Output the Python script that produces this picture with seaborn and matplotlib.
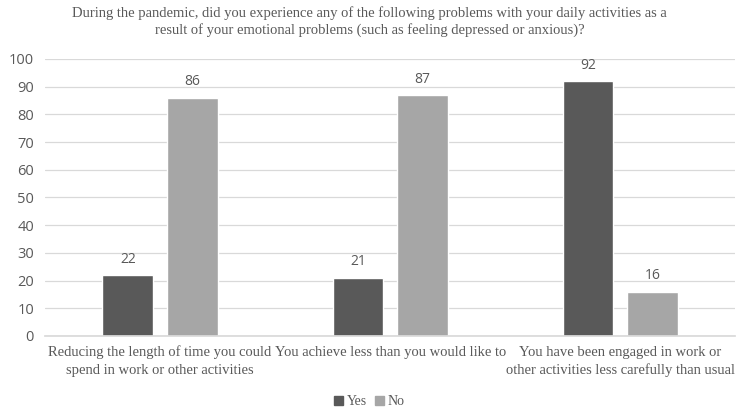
import matplotlib
matplotlib.use("Agg")
import matplotlib.pyplot as plt
import seaborn as sns
import pandas as pd
from matplotlib.patches import Patch

categories = [
    "Reducing the length of time you could\nspend in work or other activities",
    "You achieve less than you would like to",
    "You have been engaged in work or\nother activities less carefully than usual",
]
yes_values = [22, 21, 92]
no_values = [86, 87, 16]
series = ["Yes", "No"]
y_ticks = [0, 10, 20, 30, 40, 50, 60, 70, 80, 90, 100]

title = ("During the pandemic, did you experience any of the following problems with your daily activities as a\n"
         "result of your emotional problems (such as feeling depressed or anxious)?")

df = pd.DataFrame({
    "category": categories * 2,
    "answer": ["Yes"] * 3 + ["No"] * 3,
    "value": yes_values + no_values,
})

sns.set_theme(style="white")
plt.rcParams["font.family"] = ["Liberation Serif", "DejaVu Serif"]

text_gray = "#595959"
palette = {"Yes": "#595959", "No": "#a6a6a6"}

fig = plt.figure(figsize=(7.39, 4.11), dpi=100)
ax = fig.add_axes([0.061, 0.1825, 0.934, 0.674])

sns.barplot(data=df, x="category", y="value", hue="answer", hue_order=series,
            order=categories, palette=palette, width=0.562, gap=0.217,
            ax=ax, legend=False, saturation=1)

ax.set_ylim(0, 100)
ax.set_xlim(-0.5, 2.5)
ax.set_yticks(y_ticks)
ax.yaxis.grid(True, color="#d9d9d9", linewidth=0.9)
ax.set_axisbelow(True)
for s in ["top", "right", "left"]:
    ax.spines[s].set_visible(False)
ax.spines["bottom"].set_color("#d9d9d9")
ax.set_xlabel("")
ax.set_ylabel("")
ax.tick_params(axis="both", length=0)
for lab in ax.get_yticklabels():
    lab.set_fontfamily(["Open Sans", "DejaVu Sans"])
    lab.set_fontsize(10.5)
    lab.set_color(text_gray)
ax.tick_params(axis="y", pad=8)
for lab in ax.get_xticklabels():
    lab.set_fontsize(10.5)
    lab.set_color(text_gray)
    lab.set_linespacing(1.45)
ax.tick_params(axis="x", pad=7)

for cont in ax.containers:
    ax.bar_label(cont, fmt="%d", padding=6, fontsize=10,
                 color=text_gray, family=["Open Sans", "DejaVu Sans"])

fig.text(0.5, 0.985, title, ha="center", va="top", fontsize=10.5,
         color=text_gray, linespacing=1.3)

handles = [Patch(color=palette[s]) for s in series]
fig.legend(handles, series, loc="center", bbox_to_anchor=(0.5, 0.022),
           ncol=2, frameon=False, fontsize=10, handlelength=0.6, handleheight=0.6,
           handletextpad=0.3, columnspacing=0.6, labelcolor=text_gray)

fig.savefig("out.png", dpi=100)
